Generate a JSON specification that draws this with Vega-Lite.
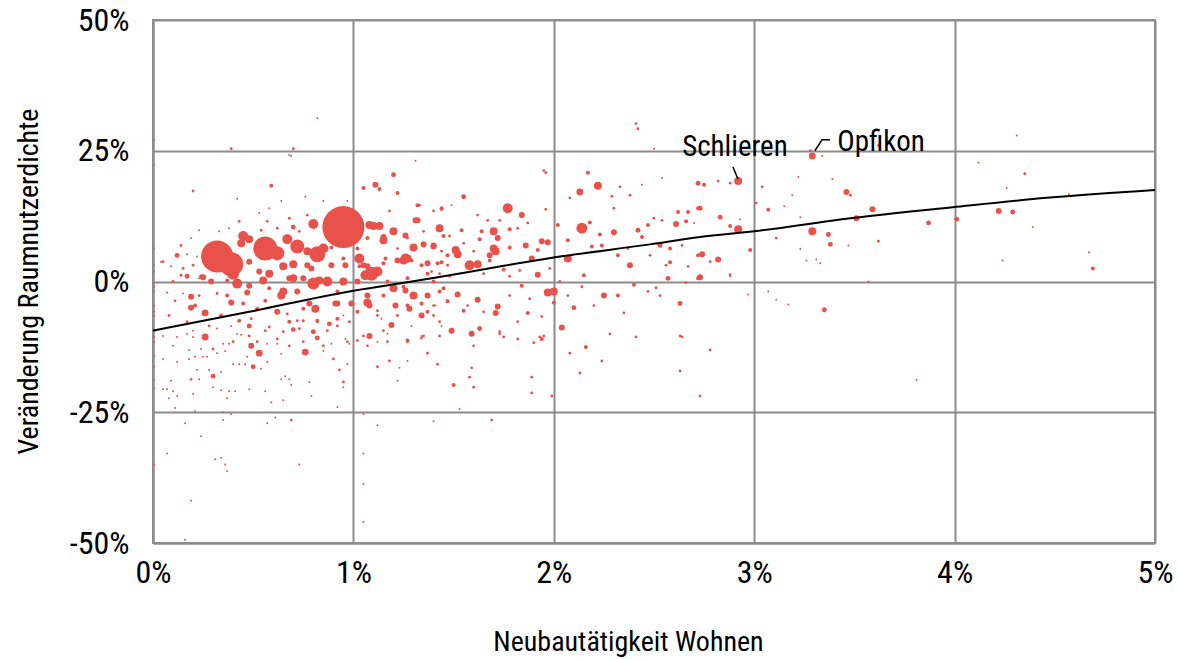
{
  "$schema": "https://vega.github.io/schema/vega-lite/v6.json",
  "width": 1002,
  "height": 523,
  "autosize": {"type": "none"},
  "padding": {"left": 153, "top": 20, "right": 23, "bottom": 117},
  "config": {
    "view": {"stroke": "#8c8c8c", "strokeWidth": 2},
    "font": "Liberation Sans Narrow, Roboto Condensed, DejaVu Sans Condensed, sans-serif",
    "axis": {
      "grid": true, "gridColor": "#8c8c8c", "gridWidth": 2,
      "domainColor": "#8c8c8c", "domainWidth": 2,
      "ticks": false, "tickSize": 0, "labelFlush": false,
      "labelFontSize": 32, "labelColor": "#000000",
      "titleFontSize": 28, "titleFontWeight": "normal", "titleColor": "#000000",
      "labelFont": "Liberation Sans Narrow, Roboto Condensed, DejaVu Sans Condensed, sans-serif",
      "titleFont": "Liberation Sans Narrow, Roboto Condensed, DejaVu Sans Condensed, sans-serif"
    }
  },
  "datasets": {
    "gemeinden": [
      {"x":0.95,"y":10.4,"w":441},{"x":0.32,"y":4.8,"w":256},{"x":0.39,"y":3.3,"w":144},{"x":0.56,"y":6.3,"w":144},
      {"x":0.62,"y":5.4,"w":49},{"x":0.72,"y":6.7,"w":49},{"x":0.82,"y":5.2,"w":64},{"x":0.80,"y":11.0,"w":25},
      {"x":0.67,"y":8.1,"w":25},{"x":0.45,"y":8.7,"w":25},{"x":0.44,"y":7.3,"w":16},{"x":0.48,"y":8.1,"w":16},
      {"x":1.10,"y":10.6,"w":16},{"x":1.20,"y":9.6,"w":16},{"x":1.30,"y":6.5,"w":16},{"x":1.43,"y":10.2,"w":16},
      {"x":1.09,"y":1.5,"w":49},{"x":1.03,"y":4.4,"w":25},{"x":0.80,"y":-0.4,"w":36},{"x":0.87,"y":0.0,"w":25},
      {"x":0.95,"y":0.0,"w":16},{"x":0.65,"y":2.9,"w":16},{"x":0.70,"y":3.3,"w":16},{"x":0.58,"y":1.5,"w":16},
      {"x":0.40,"y":1.5,"w":36},{"x":0.42,"y":-0.4,"w":25},{"x":0.25,"y":0.8,"w":9},{"x":0.29,"y":0.0,"w":9},
      {"x":0.48,"y":3.8,"w":9},{"x":0.26,"y":-6.0,"w":12},{"x":0.19,"y":-2.9,"w":9},{"x":0.47,"y":-2.1,"w":9},
      {"x":0.55,"y":0.2,"w":16},{"x":0.65,"y":-1.9,"w":16},{"x":0.70,"y":0.6,"w":16},{"x":0.75,"y":0.6,"w":9},
      {"x":0.92,"y":-4.2,"w":9},{"x":0.99,"y":-4.2,"w":9},{"x":1.07,"y":2.9,"w":9},{"x":1.15,"y":8.5,"w":9},
      {"x":1.25,"y":4.0,"w":16},{"x":1.27,"y":4.4,"w":16},{"x":1.31,"y":11.7,"w":9},{"x":1.32,"y":11.7,"w":9},
      {"x":1.40,"y":6.9,"w":9},{"x":1.37,"y":-2.7,"w":9},{"x":1.20,"y":-1.3,"w":16},{"x":1.19,"y":-8.3,"w":9},
      {"x":1.11,"y":18.5,"w":9},{"x":1.20,"y":20.4,"w":6},{"x":0.59,"y":18.3,"w":4},{"x":0.12,"y":5.0,"w":6},
      {"x":0.17,"y":1.0,"w":6},{"x":0.24,"y":1.0,"w":4},{"x":0.39,"y":-4.0,"w":9},{"x":0.48,"y":-0.8,"w":9},
      {"x":0.45,"y":-4.2,"w":4},{"x":0.56,"y":-3.7,"w":4},{"x":0.58,"y":-1.3,"w":4},{"x":0.62,"y":-5.8,"w":9},
      {"x":0.64,"y":-2.7,"w":16},{"x":0.68,"y":0.6,"w":9},{"x":0.72,"y":-1.9,"w":9},{"x":0.75,"y":-5.2,"w":4},
      {"x":0.77,"y":3.1,"w":9},{"x":0.78,"y":-4.2,"w":9},{"x":0.83,"y":0.2,"w":16},{"x":0.89,"y":3.1,"w":9},
      {"x":0.89,"y":6.5,"w":4},{"x":0.91,"y":-4.2,"w":9},{"x":0.92,"y":-1.9,"w":4},{"x":0.96,"y":3.1,"w":9},
      {"x":1.02,"y":0.0,"w":9},{"x":1.05,"y":3.1,"w":9},{"x":1.07,"y":-2.7,"w":9},{"x":1.12,"y":1.9,"w":25},
      {"x":1.15,"y":7.9,"w":16},{"x":1.15,"y":3.5,"w":4},{"x":1.21,"y":-4.6,"w":9},{"x":1.27,"y":-11.3,"w":4},
      {"x":1.22,"y":4.0,"w":9},{"x":1.35,"y":6.9,"w":4},{"x":1.34,"y":3.1,"w":4},{"x":1.30,"y":-2.7,"w":9},
      {"x":1.42,"y":3.5,"w":4},{"x":1.45,"y":8.7,"w":4},{"x":1.44,"y":14.0,"w":4},{"x":1.47,"y":5.0,"w":4},
      {"x":1.47,"y":-3.8,"w":4},{"x":1.37,"y":-5.8,"w":4},{"x":1.32,"y":14.6,"w":4},{"x":1.22,"y":16.9,"w":4},
      {"x":1.13,"y":17.7,"w":4},{"x":1.05,"y":17.9,"w":4},{"x":1.08,"y":10.8,"w":16},{"x":1.13,"y":10.6,"w":16},
      {"x":1.07,"y":8.3,"w":4},{"x":1.03,"y":2.9,"w":4},{"x":1.06,"y":1.2,"w":25},{"x":1.17,"y":0.0,"w":4},
      {"x":0.95,"y":4.4,"w":4},{"x":0.85,"y":6.3,"w":25},{"x":0.77,"y":5.8,"w":16},{"x":0.79,"y":2.5,"w":9},
      {"x":0.62,"y":4.4,"w":4},{"x":0.37,"y":3.5,"w":16},{"x":0.53,"y":1.9,"w":9},{"x":0.42,"y":15.8,"w":1},
      {"x":0.20,"y":17.3,"w":2},{"x":0.53,"y":13.1,"w":1},{"x":0.58,"y":14.0,"w":1},{"x":0.68,"y":24.2,"w":1},
      {"x":0.23,"y":9.8,"w":1},{"x":0.33,"y":9.6,"w":1},{"x":0.38,"y":10.2,"w":1},{"x":0.005,"y":22.3,"w":1},
      {"x":0.005,"y":6.3,"w":1},{"x":0.64,"y":15.4,"w":1},{"x":0.70,"y":10.4,"w":6},{"x":0.76,"y":16.2,"w":1},
      {"x":0.85,"y":15.4,"w":1},{"x":0.97,"y":15.4,"w":1},{"x":0.17,"y":5.2,"w":1},
      {"x":1.77,"y":14.0,"w":25},{"x":2.14,"y":10.2,"w":30},{"x":2.22,"y":18.3,"w":16},{"x":2.13,"y":17.1,"w":12},
      {"x":2.17,"y":20.8,"w":4},{"x":1.96,"y":20.8,"w":2},{"x":1.95,"y":21.2,"w":2},{"x":1.31,"y":23.1,"w":1},
      {"x":1.55,"y":16.2,"w":6},{"x":1.84,"y":12.7,"w":9},{"x":1.96,"y":13.8,"w":2},{"x":2.08,"y":16.0,"w":2},
      {"x":2.29,"y":16.3,"w":2},{"x":2.38,"y":16.5,"w":2},{"x":2.33,"y":18.1,"w":2},{"x":2.44,"y":18.5,"w":1},
      {"x":2.72,"y":18.8,"w":6},{"x":1.54,"y":9.8,"w":4},{"x":1.70,"y":9.6,"w":16},{"x":1.64,"y":9.6,"w":4},
      {"x":1.78,"y":10.0,"w":4},{"x":1.94,"y":7.7,"w":9},{"x":2.02,"y":10.8,"w":4},{"x":2.07,"y":7.9,"w":4},
      {"x":2.18,"y":11.3,"w":4},{"x":2.23,"y":9.0,"w":4},{"x":2.30,"y":9.4,"w":9},{"x":2.42,"y":9.8,"w":6},
      {"x":2.47,"y":10.8,"w":4},{"x":2.61,"y":11.0,"w":9},{"x":2.67,"y":13.3,"w":4},{"x":2.72,"y":14.0,"w":4},
      {"x":1.26,"y":8.8,"w":9},{"x":1.35,"y":7.1,"w":9},{"x":1.40,"y":6.7,"w":9},{"x":1.51,"y":6.0,"w":16},
      {"x":1.52,"y":5.2,"w":16},{"x":1.63,"y":8.1,"w":4},{"x":1.72,"y":8.3,"w":9},{"x":1.70,"y":6.3,"w":16},
      {"x":1.71,"y":5.8,"w":16},{"x":1.68,"y":5.0,"w":9},{"x":1.78,"y":6.5,"w":4},{"x":1.86,"y":6.9,"w":9},
      {"x":1.92,"y":6.0,"w":4},{"x":1.97,"y":7.5,"w":9},{"x":1.26,"y":4.4,"w":25},{"x":1.29,"y":4.0,"w":4},
      {"x":1.37,"y":3.5,"w":9},{"x":1.44,"y":3.7,"w":4},{"x":1.58,"y":3.1,"w":25},{"x":1.62,"y":3.3,"w":16},
      {"x":1.68,"y":4.0,"w":4},{"x":1.75,"y":2.3,"w":4},{"x":1.89,"y":4.4,"w":9},{"x":1.92,"y":1.3,"w":9},
      {"x":2.07,"y":4.4,"w":16},{"x":2.15,"y":1.2,"w":4},{"x":2.19,"y":6.7,"w":4},{"x":2.24,"y":6.9,"w":4},
      {"x":2.32,"y":5.0,"w":4},{"x":2.38,"y":3.1,"w":9},{"x":2.44,"y":8.5,"w":4},{"x":2.57,"y":0.6,"w":6},
      {"x":2.72,"y":0.6,"w":4},{"x":2.72,"y":5.0,"w":4},{"x":1.26,"y":-1.7,"w":9},{"x":1.30,"y":-2.7,"w":16},
      {"x":1.43,"y":-1.9,"w":4},{"x":1.52,"y":-2.5,"w":9},{"x":1.62,"y":-3.5,"w":9},{"x":1.72,"y":-4.8,"w":9},
      {"x":1.97,"y":-2.1,"w":16},{"x":2.00,"y":-1.9,"w":16},{"x":2.00,"y":-4.0,"w":4},{"x":2.10,"y":-5.0,"w":6},
      {"x":2.25,"y":-2.7,"w":9},{"x":2.32,"y":-2.7,"w":4},{"x":2.40,"y":-0.6,"w":4},{"x":2.63,"y":-4.2,"w":6},
      {"x":1.28,"y":-5.2,"w":9},{"x":1.34,"y":-6.5,"w":9},{"x":1.55,"y":-5.6,"w":4},{"x":1.71,"y":-6.0,"w":9},
      {"x":1.87,"y":-6.0,"w":4},{"x":2.04,"y":-8.8,"w":9},{"x":1.49,"y":-9.4,"w":9},{"x":1.27,"y":-11.5,"w":2},
      {"x":1.63,"y":-9.0,"w":6},{"x":1.73,"y":-9.6,"w":2},{"x":2.35,"y":-6.0,"w":2},{"x":1.94,"y":-6.7,"w":2},
      {"x":2.92,"y":19.2,"w":16},{"x":3.29,"y":24.0,"w":12},{"x":2.75,"y":18.5,"w":4},{"x":2.82,"y":19.2,"w":2},
      {"x":2.88,"y":18.8,"w":2},{"x":2.54,"y":19.8,"w":1},{"x":2.50,"y":25.4,"w":1},{"x":2.73,"y":14.0,"w":6},
      {"x":2.62,"y":13.3,"w":4},{"x":2.83,"y":12.3,"w":6},{"x":2.66,"y":11.5,"w":4},{"x":2.92,"y":10.0,"w":16},
      {"x":2.88,"y":10.6,"w":4},{"x":2.93,"y":11.9,"w":1},{"x":2.54,"y":11.7,"w":2},{"x":2.70,"y":11.2,"w":1},
      {"x":2.53,"y":6.9,"w":6},{"x":2.58,"y":6.3,"w":4},{"x":2.74,"y":5.2,"w":9},{"x":2.82,"y":4.2,"w":9},
      {"x":2.78,"y":3.8,"w":2},{"x":2.58,"y":3.7,"w":4},{"x":2.67,"y":2.9,"w":2},{"x":2.73,"y":0.8,"w":9},
      {"x":2.66,"y":-0.2,"w":2},{"x":2.88,"y":1.3,"w":2},{"x":2.98,"y":6.0,"w":4},{"x":3.01,"y":15.0,"w":2},
      {"x":3.04,"y":18.1,"w":2},{"x":3.07,"y":13.7,"w":4},{"x":3.15,"y":14.4,"w":1},{"x":3.19,"y":16.5,"w":1},
      {"x":3.22,"y":20.0,"w":1},{"x":3.39,"y":19.6,"w":1},{"x":3.46,"y":17.1,"w":9},{"x":3.48,"y":16.5,"w":2},
      {"x":3.59,"y":13.8,"w":9},{"x":3.51,"y":12.1,"w":9},{"x":3.29,"y":9.6,"w":16},{"x":3.37,"y":9.0,"w":6},
      {"x":3.38,"y":7.1,"w":6},{"x":3.23,"y":12.3,"w":1},{"x":3.11,"y":8.3,"w":2},{"x":3.47,"y":6.9,"w":1},
      {"x":3.62,"y":7.7,"w":2},{"x":3.87,"y":11.2,"w":6},{"x":3.23,"y":6.2,"w":1},{"x":3.26,"y":4.0,"w":1},
      {"x":3.31,"y":4.2,"w":1},{"x":3.33,"y":3.5,"w":1},{"x":3.07,"y":-1.9,"w":1},{"x":3.11,"y":-3.5,"w":1},
      {"x":3.17,"y":-4.4,"w":1},{"x":3.35,"y":-5.4,"w":6},{"x":2.97,"y":-2.5,"w":1},{"x":2.51,"y":-1.2,"w":2},
      {"x":3.57,"y":0.0,"w":1},{"x":3.62,"y":26.0,"w":2},{"x":3.28,"y":25.0,"w":2},{"x":3.34,"y":24.0,"w":1},
      {"x":2.88,"y":1.0,"w":1},{"x":4.31,"y":27.9,"w":1},{"x":4.12,"y":22.7,"w":1},{"x":4.35,"y":20.6,"w":2},
      {"x":4.26,"y":17.9,"w":1},{"x":4.57,"y":16.7,"w":1},{"x":4.01,"y":11.9,"w":6},{"x":4.22,"y":13.5,"w":9},
      {"x":4.29,"y":13.3,"w":6},{"x":4.39,"y":10.4,"w":1},{"x":4.24,"y":4.0,"w":1},{"x":4.67,"y":5.6,"w":1},
      {"x":4.69,"y":2.5,"w":4},{"x":3.81,"y":-18.8,"w":1},
      {"x":1.59,"y":-10.0,"w":9},{"x":1.73,"y":-10.0,"w":2},{"x":1.75,"y":-10.6,"w":2},{"x":1.82,"y":-11.0,"w":2},
      {"x":1.90,"y":-11.7,"w":2},{"x":1.93,"y":-10.6,"w":2},{"x":1.94,"y":-11.0,"w":4},{"x":1.95,"y":-10.4,"w":2},
      {"x":1.60,"y":-12.3,"w":2},{"x":1.59,"y":-16.5,"w":2},{"x":1.58,"y":-18.3,"w":2},{"x":1.50,"y":-19.8,"w":4},
      {"x":1.60,"y":-20.2,"w":2},{"x":1.89,"y":-18.3,"w":2},{"x":1.89,"y":-21.3,"w":2},{"x":1.99,"y":-21.9,"w":2},
      {"x":1.53,"y":-24.4,"w":1},{"x":1.69,"y":-26.5,"w":2},{"x":2.28,"y":-10.0,"w":2},{"x":2.41,"y":-10.6,"w":2},
      {"x":2.63,"y":-10.4,"w":2},{"x":2.64,"y":-10.6,"w":2},{"x":2.16,"y":-12.5,"w":4},{"x":2.08,"y":-13.7,"w":2},
      {"x":2.24,"y":-15.2,"w":2},{"x":2.13,"y":-17.5,"w":2},{"x":2.63,"y":-17.1,"w":2},{"x":2.78,"y":-13.1,"w":2},
      {"x":2.73,"y":-21.9,"w":2},{"x":0.82,"y":31.2,"w":1},{"x":0.005,"y":27.1,"w":1},{"x":0.39,"y":25.4,"w":2},
      {"x":0.70,"y":25.4,"w":2},{"x":0.69,"y":24.0,"w":1},{"x":2.41,"y":30.2,"w":2},{"x":2.42,"y":29.2,"w":2},
      {"x":0.19,"y":-5.0,"w":9},{"x":0.26,"y":-10.6,"w":12},{"x":0.30,"y":-18.1,"w":6},{"x":0.53,"y":-13.7,"w":12},
      {"x":0.50,"y":-16.3,"w":6},{"x":0.49,"y":-12.3,"w":9},{"x":0.52,"y":-11.5,"w":2},{"x":0.76,"y":-13.5,"w":12},
      {"x":0.82,"y":-10.8,"w":6},{"x":0.70,"y":-9.2,"w":6},{"x":0.80,"y":-9.6,"w":6},{"x":0.65,"y":-9.6,"w":2},
      {"x":0.58,"y":-8.7,"w":2},{"x":0.67,"y":-6.2,"w":2},{"x":0.72,"y":-7.5,"w":2},{"x":0.75,"y":-7.5,"w":2},
      {"x":0.82,"y":-7.7,"w":2},{"x":0.88,"y":-8.1,"w":6},{"x":0.92,"y":-8.5,"w":2},{"x":0.81,"y":-5.2,"w":16},
      {"x":1.07,"y":-4.0,"w":16},{"x":1.08,"y":-10.4,"w":9},{"x":1.12,"y":-5.6,"w":2},{"x":1.17,"y":-11.5,"w":2},
      {"x":1.34,"y":-10.8,"w":2},{"x":1.37,"y":-13.7,"w":2},{"x":1.42,"y":-15.8,"w":2},{"x":1.22,"y":-19.0,"w":1},
      {"x":1.18,"y":-15.2,"w":2},{"x":1.12,"y":-16.3,"w":2},{"x":1.02,"y":-11.3,"w":2},{"x":1.07,"y":-12.3,"w":2},
      {"x":0.90,"y":-14.8,"w":2},{"x":0.93,"y":-16.9,"w":2},{"x":0.95,"y":-19.2,"w":2},{"x":0.95,"y":-20.2,"w":1},
      {"x":0.92,"y":-24.0,"w":1},{"x":0.79,"y":-21.9,"w":1},{"x":0.78,"y":-19.2,"w":1},{"x":0.69,"y":-19.8,"w":1},
      {"x":0.68,"y":-18.7,"w":1},{"x":0.65,"y":-22.7,"w":1},{"x":0.59,"y":-23.1,"w":1},{"x":0.56,"y":-21.0,"w":1},
      {"x":0.48,"y":-20.6,"w":1},{"x":0.41,"y":-21.0,"w":1},{"x":0.38,"y":-21.0,"w":1},{"x":0.37,"y":-22.3,"w":1},
      {"x":0.34,"y":-20.8,"w":1},{"x":0.30,"y":-20.2,"w":1},{"x":0.28,"y":-16.9,"w":1},{"x":0.34,"y":-17.3,"w":1},
      {"x":0.23,"y":-18.7,"w":1},{"x":0.19,"y":-18.7,"w":2},{"x":0.22,"y":-16.9,"w":1},{"x":0.20,"y":-21.5,"w":1},
      {"x":0.12,"y":-21.9,"w":1},{"x":0.10,"y":-21.0,"w":1},{"x":0.05,"y":-20.6,"w":1},{"x":0.07,"y":-20.6,"w":1},
      {"x":0.08,"y":-22.3,"w":1},{"x":0.09,"y":-19.0,"w":1},{"x":0.11,"y":-24.2,"w":1},{"x":0.21,"y":-24.8,"w":1},
      {"x":0.35,"y":-25.0,"w":1},{"x":0.39,"y":-25.4,"w":1},{"x":0.35,"y":-26.5,"w":1},{"x":0.16,"y":-27.1,"w":1},
      {"x":0.24,"y":-29.6,"w":1},{"x":0.61,"y":-26.0,"w":1},{"x":0.57,"y":-27.1,"w":1},{"x":0.69,"y":-26.5,"w":2},
      {"x":0.07,"y":-32.9,"w":1},{"x":0.34,"y":-33.7,"w":1},{"x":0.31,"y":-34.0,"w":1},{"x":0.36,"y":-35.0,"w":1},
      {"x":0.37,"y":-36.3,"w":1},{"x":0.73,"y":-35.0,"w":1},{"x":0.19,"y":-41.9,"w":1},{"x":0.16,"y":-49.4,"w":1},
      {"x":0.005,"y":-35.0,"w":1},{"x":1.05,"y":-25.4,"w":1},{"x":1.12,"y":-27.5,"w":1},{"x":1.40,"y":-26.7,"w":1},
      {"x":1.05,"y":-32.9,"w":1},{"x":1.05,"y":-38.7,"w":1},{"x":1.05,"y":-46.0,"w":1},{"x":0.20,"y":-10.6,"w":1},
      {"x":0.24,"y":-12.9,"w":1},{"x":0.18,"y":-13.1,"w":1},{"x":0.18,"y":-14.8,"w":1},{"x":0.21,"y":-14.4,"w":1},
      {"x":0.25,"y":-14.4,"w":1},{"x":0.27,"y":-14.4,"w":1},{"x":0.12,"y":-15.4,"w":1},{"x":0.05,"y":-14.8,"w":1},
      {"x":0.005,"y":-14.2,"w":1},{"x":0.005,"y":-16.3,"w":1},{"x":0.005,"y":-18.8,"w":1},{"x":0.005,"y":-20.4,"w":1},
      {"x":0.005,"y":-11.5,"w":1},{"x":0.005,"y":-9.4,"w":1},{"x":0.10,"y":-12.3,"w":1},{"x":0.12,"y":-10.6,"w":1},
      {"x":0.17,"y":-10.0,"w":1},{"x":0.40,"y":-15.8,"w":1},{"x":0.43,"y":-15.8,"w":1},{"x":0.46,"y":-15.8,"w":1},
      {"x":0.47,"y":-14.4,"w":1},{"x":0.32,"y":-13.7,"w":1},{"x":0.36,"y":-13.3,"w":1},{"x":0.35,"y":-11.9,"w":1},
      {"x":0.38,"y":-11.9,"w":1},{"x":0.42,"y":-10.0,"w":1},{"x":0.39,"y":-8.5,"w":1},{"x":0.44,"y":-10.2,"w":1},
      {"x":0.57,"y":-11.9,"w":1},{"x":0.62,"y":-11.9,"w":1},{"x":0.64,"y":-18.7,"w":1},{"x":0.66,"y":-18.1,"w":1},
      {"x":0.57,"y":-15.4,"w":1},{"x":0.64,"y":-13.8,"w":1},{"x":0.54,"y":-16.7,"w":1},{"x":0.48,"y":-8.5,"w":6},
      {"x":0.32,"y":-9.0,"w":1},{"x":0.30,"y":-12.9,"w":2},{"x":0.89,"y":-11.9,"w":1},{"x":0.85,"y":-13.3,"w":1},
      {"x":0.98,"y":-11.9,"w":1},{"x":0.96,"y":-11.0,"w":1},{"x":0.97,"y":-15.8,"w":1},{"x":0.95,"y":-6.5,"w":1},
      {"x":1.12,"y":-11.5,"w":1},{"x":1.14,"y":-7.1,"w":1},{"x":1.17,"y":-10.0,"w":1},{"x":1.23,"y":-16.5,"w":1},
      {"x":1.27,"y":-15.2,"w":1},{"x":1.34,"y":-10.4,"w":1},{"x":1.29,"y":-8.5,"w":1},{"x":1.41,"y":-4.6,"w":1},
      {"x":1.44,"y":-8.5,"w":1},{"x":0.005,"y":-1.9,"w":1},{"x":0.005,"y":-5.8,"w":1},{"x":0.005,"y":-10.6,"w":1},
      {"x":0.07,"y":-2.1,"w":1},{"x":0.15,"y":-2.3,"w":1},{"x":0.20,"y":-9.4,"w":1},{"x":0.19,"y":8.3,"w":1},
      {"x":0.14,"y":6.9,"w":1},{"x":0.22,"y":4.8,"w":1},{"x":0.04,"y":3.8,"w":1},{"x":0.005,"y":3.1,"w":1},
      {"x":0.09,"y":2.9,"w":1},{"x":0.23,"y":0.6,"w":1},{"x":0.005,"y":1.9,"w":1},
      {"x":0.005,"y":-1.0,"w":1},{"x":0.005,"y":-4.6,"w":1},{"x":0.005,"y":-6.5,"w":1},{"x":0.05,"y":3.8,"w":2},
      {"x":0.10,"y":0.0,"w":2},{"x":0.14,"y":6.9,"w":2},{"x":0.17,"y":-7.7,"w":2},{"x":0.21,"y":-4.6,"w":4},
      {"x":0.28,"y":-8.5,"w":2},{"x":0.34,"y":-6.5,"w":4},{"x":0.37,"y":-2.7,"w":4},{"x":0.32,"y":-2.3,"w":2},
      {"x":0.43,"y":-7.5,"w":4},{"x":0.49,"y":-7.1,"w":2},{"x":0.52,"y":-5.2,"w":4},{"x":0.40,"y":-11.5,"w":2},
      {"x":0.48,"y":-10.4,"w":2},{"x":0.56,"y":-9.4,"w":2},{"x":0.62,"y":-11.0,"w":2},{"x":0.68,"y":-7.7,"w":4},
      {"x":0.73,"y":-9.0,"w":2},{"x":0.82,"y":-7.5,"w":4},{"x":0.87,"y":-9.4,"w":2},{"x":0.92,"y":-7.1,"w":4},
      {"x":0.98,"y":-7.7,"w":2},{"x":1.02,"y":-5.8,"w":4},{"x":1.08,"y":-4.6,"w":9},{"x":1.12,"y":-6.5,"w":2},
      {"x":1.15,"y":-2.7,"w":4},{"x":1.22,"y":-6.5,"w":2},{"x":1.27,"y":-4.6,"w":4},{"x":1.34,"y":-4.2,"w":4},
      {"x":1.40,"y":-6.5,"w":2},{"x":1.45,"y":-1.3,"w":4},{"x":1.43,"y":-10.4,"w":2},{"x":1.35,"y":-10.4,"w":2},
      {"x":1.15,"y":-9.4,"w":2},{"x":1.05,"y":-10.4,"w":2},{"x":0.97,"y":-11.5,"w":2},{"x":0.85,"y":-12.3,"w":2},
      {"x":0.75,"y":-11.5,"w":2},{"x":0.68,"y":-12.3,"w":2},{"x":0.23,"y":-2.7,"w":2},{"x":0.11,"y":-3.7,"w":2},
      {"x":0.08,"y":-6.5,"w":2},{"x":0.05,"y":-10.4,"w":1},{"x":1.37,"y":1.5,"w":4},{"x":1.40,"y":0.0,"w":4},
      {"x":1.27,"y":0.6,"w":4},{"x":1.25,"y":-1.0,"w":4},{"x":1.16,"y":4.4,"w":4},{"x":1.02,"y":6.3,"w":4},
      {"x":0.92,"y":8.3,"w":2},{"x":0.73,"y":9.6,"w":2},{"x":0.62,"y":10.2,"w":2},{"x":0.54,"y":9.8,"w":2},
      {"x":0.33,"y":6.9,"w":2},{"x":0.28,"y":5.8,"w":2},{"x":0.20,"y":3.1,"w":2},{"x":0.15,"y":2.5,"w":2},
      {"x":0.14,"y":1.2,"w":2},{"x":0.37,"y":0.2,"w":4},{"x":1.43,"y":1.5,"w":2},{"x":1.47,"y":3.1,"w":2},
      {"x":1.35,"y":9.6,"w":2},{"x":1.22,"y":6.3,"w":2},{"x":1.27,"y":8.3,"w":2},{"x":1.40,"y":13.5,"w":2},
      {"x":1.18,"y":13.5,"w":2},{"x":0.98,"y":13.1,"w":2},{"x":0.92,"y":12.7,"w":2},{"x":0.77,"y":12.7,"w":2},
      {"x":0.68,"y":12.1,"w":2},{"x":0.57,"y":11.5,"w":2},{"x":0.43,"y":11.5,"w":2},
      {"x":1.33,"y":14.6,"w":2},{"x":1.44,"y":13.7,"w":2},{"x":1.49,"y":14.6,"w":1},{"x":1.62,"y":12.7,"w":2},
      {"x":1.67,"y":11.7,"w":2},{"x":1.73,"y":11.7,"w":2},{"x":1.82,"y":10.2,"w":2},{"x":1.87,"y":11.2,"w":2},
      {"x":1.48,"y":8.7,"w":2},{"x":1.55,"y":7.3,"w":2},{"x":1.60,"y":5.8,"w":2},{"x":1.44,"y":5.8,"w":2},
      {"x":1.39,"y":1.9,"w":2},{"x":1.48,"y":1.0,"w":2},{"x":1.65,"y":1.5,"w":2},{"x":1.78,"y":1.0,"w":2},
      {"x":1.83,"y":2.1,"w":2},{"x":1.98,"y":2.5,"w":2},{"x":2.03,"y":0.0,"w":2},{"x":1.40,"y":-4.6,"w":2},
      {"x":1.47,"y":-3.7,"w":2},{"x":1.57,"y":-4.6,"w":2},{"x":1.65,"y":-5.8,"w":2},{"x":1.78,"y":-2.7,"w":2},
      {"x":1.84,"y":-0.8,"w":4},{"x":1.88,"y":-3.3,"w":2},{"x":2.07,"y":-2.7,"w":2},{"x":2.14,"y":-1.0,"w":2},
      {"x":2.20,"y":-4.6,"w":2},{"x":1.82,"y":-7.7,"w":2},{"x":1.43,"y":-7.7,"w":2},{"x":2.30,"y":14.0,"w":2},
      {"x":2.50,"y":12.1,"w":2},{"x":2.37,"y":6.3,"w":2},{"x":2.48,"y":5.0,"w":2},{"x":2.56,"y":3.1,"w":2},
      {"x":2.64,"y":6.9,"w":2},{"x":2.47,"y":-1.9,"w":2},{"x":2.53,"y":-2.7,"w":2}
    ],
    "trend": [
      {"x":0.0,"y":-9.4},{"x":0.48,"y":-5.8},{"x":0.98,"y":-1.9},{"x":1.23,"y":-0.4},{"x":1.48,"y":1.2},
      {"x":2.0,"y":4.6},{"x":2.48,"y":7.1},{"x":2.73,"y":8.5},{"x":3.0,"y":9.6},{"x":3.48,"y":12.1},
      {"x":3.99,"y":14.2},{"x":4.46,"y":16.0},{"x":5.0,"y":17.5}
    ],
    "labels": [
      {"x":2.904,"y":24.0,"name":"Schlieren"},
      {"x":3.633,"y":25.0,"name":"Opfikon"}
    ],
    "leaders": [
      {"g":"S","o":1,"x":2.894,"y":21.9},{"g":"S","o":2,"x":2.919,"y":19.6},
      {"g":"O","o":1,"x":3.303,"y":25.0},{"g":"O","o":2,"x":3.338,"y":27.1},{"g":"O","o":3,"x":3.378,"y":27.1}
    ]
  },
  "encoding": {
    "x": {"field": "x", "type": "quantitative",
      "scale": {"domain": [0, 5], "nice": false, "zero": false},
      "axis": {"values": [0,1,2,3,4,5], "labelExpr": "datum.value + '%'", "labelPadding": 14,
        "title": "Neubautätigkeit Wohnen", "titleX": 475, "titleY": 107, "titleAlign": "center", "titleBaseline": "alphabetic", "titleAnchor": null}},
    "y": {"field": "y", "type": "quantitative",
      "scale": {"domain": [-50, 50], "nice": false, "zero": false},
      "axis": {"values": [-50,-25,0,25,50], "labelExpr": "datum.value + '%'", "labelPadding": 24,
        "title": "Veränderung Raumnutzerdichte", "titleAngle": 270, "titleX": -116, "titleY": 261, "titleAlign": "center", "titleBaseline": "alphabetic", "titleAnchor": null}}
  },
  "layer": [
    {
      "data": {"name": "gemeinden"},
      "mark": {"type": "circle", "color": "#E9514B", "opacity": 1},
      "encoding": {
        "size": {"field": "w", "type": "quantitative", "scale": {"type": "linear", "domain": [0, 441], "range": [0, 1764], "nice": false, "zero": true}, "legend": null}
      }
    },
    {
      "data": {"name": "trend"},
      "mark": {"type": "line", "color": "#000000", "strokeWidth": 2, "interpolate": "monotone"},
      "encoding": {}
    },
    {
      "data": {"name": "leaders"},
      "mark": {"type": "line", "color": "#000000", "strokeWidth": 1.5},
      "encoding": {"detail": {"field": "g"}, "order": {"field": "o", "type": "quantitative"}}
    },
    {
      "data": {"name": "labels"},
      "mark": {"type": "text", "fontSize": 29, "color": "#000000", "baseline": "alphabetic", "align": "center", "font": "Liberation Sans Narrow, Roboto Condensed, DejaVu Sans Condensed, sans-serif"},
      "encoding": {"text": {"field": "name"}}
    }
  ]
}
